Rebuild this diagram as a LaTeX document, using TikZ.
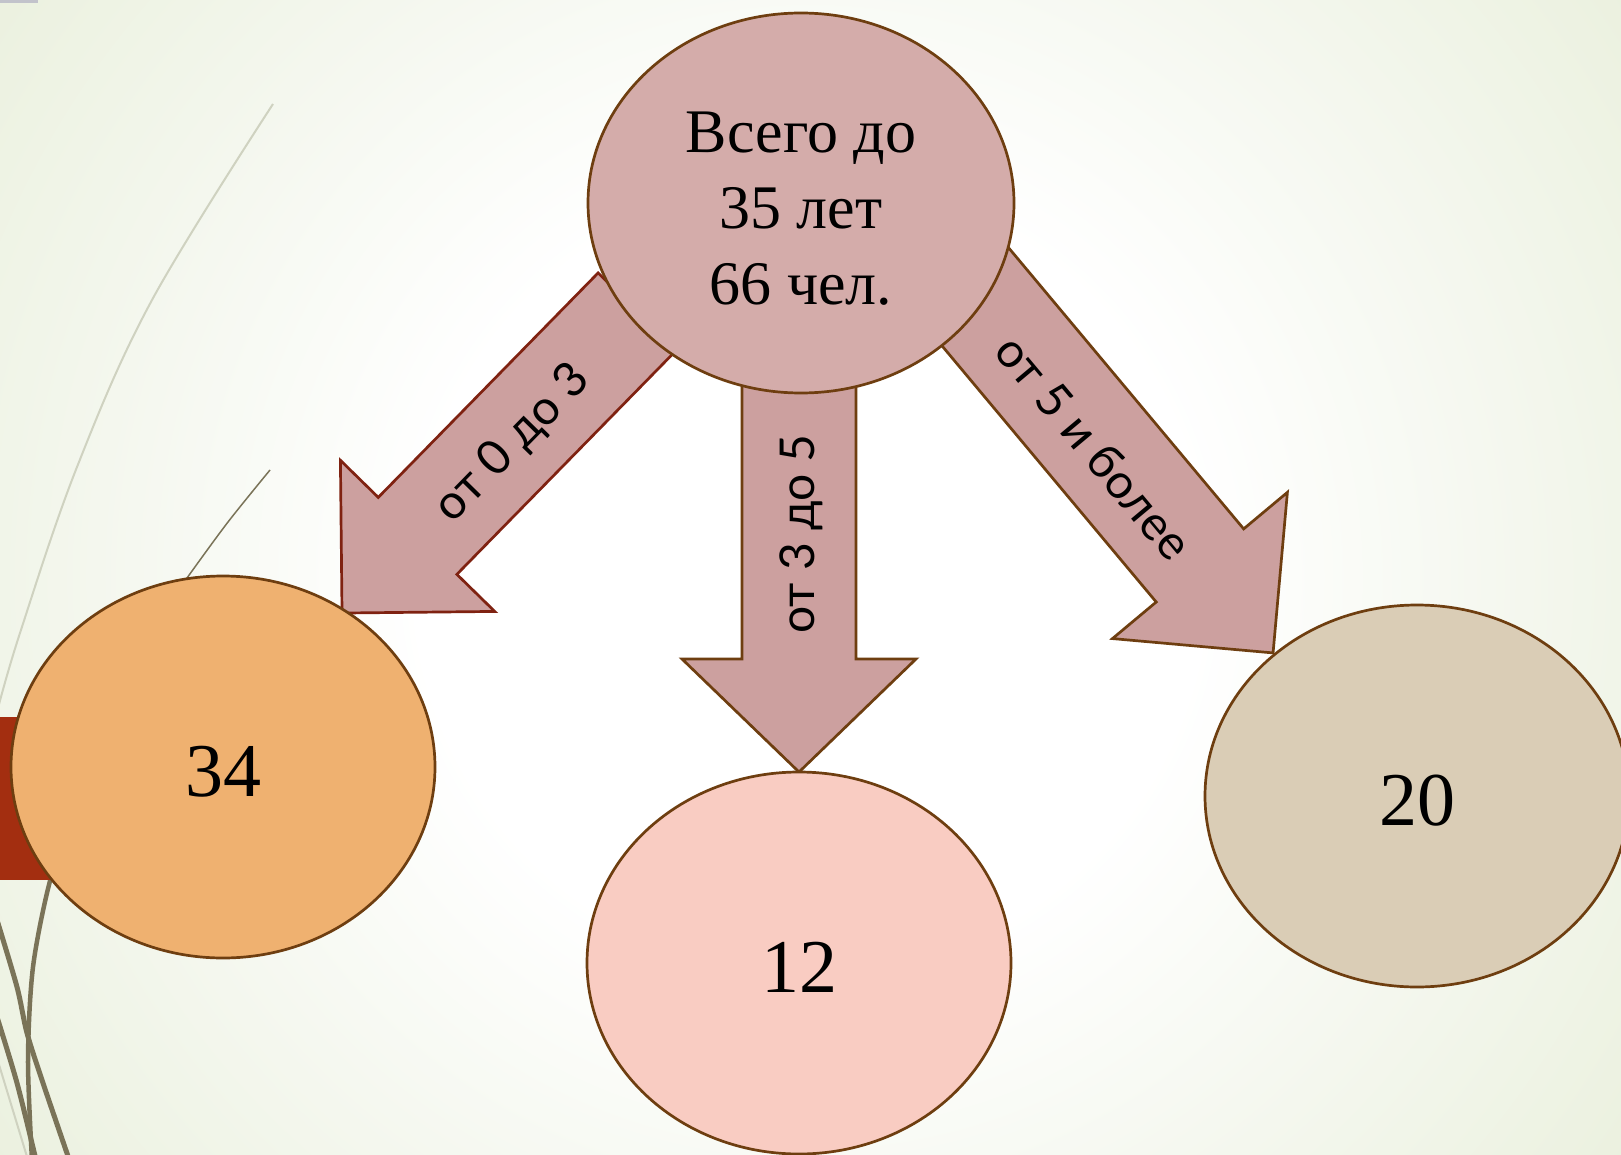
\documentclass[tikz,border=0pt]{standalone}
\usepackage{fontspec}
\setmainfont{Liberation Serif}
\newfontfamily\labelfont{Lato}
\usetikzlibrary{shapes.geometric}
\definecolor{bggreen}{HTML}{DEE7C6}
\definecolor{bgfour}{HTML}{E3EBCF}
\definecolor{bgthree}{HTML}{EAF0DD}
\definecolor{bgtwo}{HTML}{F4F7EE}
\definecolor{brownline}{HTML}{6E3E10}
\definecolor{redline}{HTML}{7F2211}
\definecolor{topfill}{HTML}{D4ACAA}
\definecolor{arrowfill}{HTML}{CCA09F}
\definecolor{orangefill}{HTML}{EFB170}
\definecolor{pinkfill}{HTML}{F9CCC2}
\definecolor{tanfill}{HTML}{DACDB6}
\definecolor{redrect}{HTML}{A32E10}
\definecolor{olive}{HTML}{7A7358}
\definecolor{lightcurve}{HTML}{CFD2C0}
\definecolor{greybar}{HTML}{C2C3CB}
\pgfdeclareradialshading{bgshade}{\pgfpoint{0bp}{0bp}}{color(0bp)=(white); color(12bp)=(white); color(22bp)=(bgtwo); color(32bp)=(bgthree); color(42bp)=(bgfour); color(52bp)=(bggreen); color(75bp)=(bggreen)}
\tikzset{
  barrow/.style={fill=arrowfill, draw=brownline, line width=2.7pt, line join=miter},
  ell/.style={ellipse, draw=brownline, line width=2.7pt, minimum width=424pt, minimum height=382pt, inner sep=0pt},
  numtext/.style={font=\fontsize{76}{80}\selectfont, text height=59pt, text depth=0pt},
  alabel/.style={font=\labelfont\fontsize{48}{50}\selectfont, inner sep=0pt},
  deco/.style={olive, line width=5pt}
}
\begin{document}
\begin{tikzpicture}[x=1pt,y=-1pt]
\useasboundingbox (0,0) rectangle (1621,1155);
\begin{scope}
\clip (0,0) rectangle (1621,1155);
\shade[shading=bgshade] (-2,-235) rectangle (1622,1389);
\fill[greybar] (0,0) rectangle (38,3);
% decorative curves
\draw[lightcurve, line width=2pt] plot[smooth, tension=0.6] coordinates {(273,104) (152,300) (77,467) (20,633) (-3,712)};
\draw[olive, line width=1.5pt] plot[smooth] coordinates {(270,470) (228,522) (187,578) (172,600)};
\draw[deco, line width=4.5pt] plot[smooth] coordinates {(70,830) (50,881) (33,967) (28,1060) (32,1160)};
\draw[deco] plot[smooth] coordinates {(-3,920) (17,987) (27,1033) (43,1083) (70,1162)};
\draw[deco] plot[smooth] coordinates {(-3,1017) (17,1083) (36,1160)};
\draw[lightcurve, line width=2pt] (-3,1058) -- (28,1160);
\fill[redrect] (0,717) rectangle (60,880);
\end{scope}
% arrow end points
\coordinate (lt) at (637.4,311.4);
\coordinate (mt) at (799,380);
\coordinate (rt) at (961,279.7);
% left arrow
\begin{scope}[shift={(lt)}, rotate=225.6]
\draw[barrow, draw=redline] (0,-55) -- (314.2,-55) -- (314.2,-108) -- (422.2,0) -- (314.2,108) -- (314.2,55) -- (0,55) -- cycle;
\end{scope}
% middle arrow
\begin{scope}[shift={(mt)}, rotate=-90]
\draw[barrow] (0,-57) -- (279,-57) -- (279,-117) -- (392,0) -- (279,117) -- (279,57) -- (0,57) -- cycle;
\end{scope}
% right arrow
\begin{scope}[shift={(rt)}, rotate=-50.1]
\draw[barrow] (0,-57) -- (372.5,-57) -- (372.5,-114) -- (486.5,0) -- (372.5,114) -- (372.5,57) -- (0,57) -- cycle;
\end{scope}
% ellipses
\node[ell, fill=topfill, minimum width=426pt, minimum height=380pt] (top) at (801,203) {};
\node[align=center, font=\fontsize{62}{76}\selectfont, inner sep=0pt] (toptext) at (801,209) {Всего до\\35 лет\\66 чел.};
\node[ell, fill=orangefill, numtext] (a) at (223,767) {34};
\node[ell, fill=pinkfill, numtext] (b) at (799,963) {12};
\node[ell, fill=tanfill, numtext] (c) at (1417,796) {20};
% arrow labels
\node[alabel, rotate=45.6] (la) at (513,444) {от 0 до 3};
\node[alabel, rotate=90] (lb) at (801,534) {от 3 до 5};
\node[alabel, rotate=-50.1] (lc) at (1094,447) {от 5 и более};
\end{tikzpicture}
\end{document}
